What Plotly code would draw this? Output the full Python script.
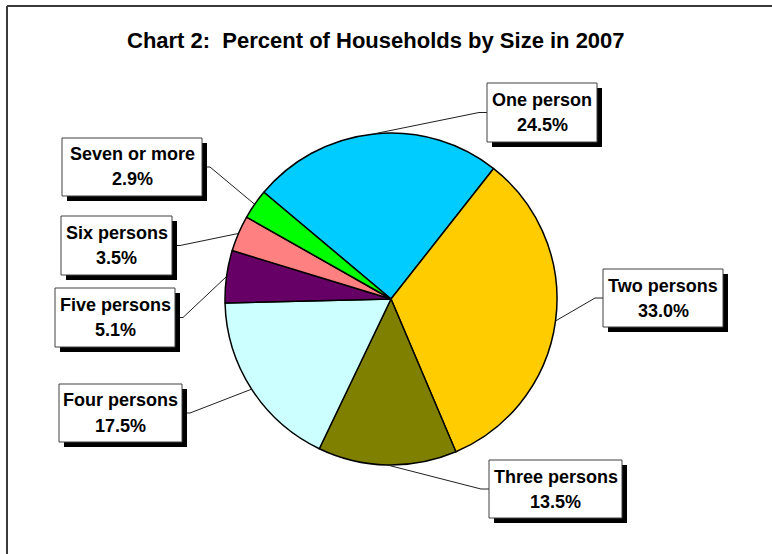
import math
import plotly.graph_objects as go

# ---- data ----
categories = ["One person", "Two persons", "Three persons", "Four persons",
              "Five persons", "Six persons", "Seven or more"]
percents = [24.5, 33.0, 13.5, 17.5, 5.1, 3.5, 2.9]
colors = ["#00CCFF", "#FFCC00", "#808000", "#CCFFFF", "#660066", "#FF8080", "#00FF00"]
title_text = "Chart 2:  Percent of Households by Size in 2007"

# ---- layout constants (pixels) ----
W, H = 772, 554
CX, CY, R = 391, 299, 166
START_DEG = -50
# label boxes: (x0, y0, x1, y1, side)  side = where leader attaches
boxes = [
    (487, 83, 597, 142, "left"),
    (603, 269, 723, 327, "left"),
    (489, 460, 622, 518, "left"),
    (59, 384, 182, 442, "right"),
    (55, 288, 175, 347, "right"),
    (61, 216, 172, 275, "right"),
    (62, 138, 202, 196, "right"),
]
FONT = "Arial, Liberation Sans, sans-serif"


def px(x):
    return x / W


def py(y):
    return 1 - y / H


fig = go.Figure(go.Pie(
    labels=categories, values=percents, sort=False, direction="clockwise",
    rotation=START_DEG, textinfo="none", hoverinfo="label+percent",
    marker=dict(colors=colors, line=dict(color="#000000", width=1.5)),
    domain=dict(x=[px(CX - R), px(CX + R)], y=[py(CY + R), py(CY - R)]),
    showlegend=False,
))

shapes = []
annotations = []

# frame (top and left edges visible)
shapes.append(dict(type="line", xref="paper", yref="paper", x0=px(7), y0=py(6), x1=1.0, y1=py(6),
                   line=dict(color="#3a3a3a", width=2)))
shapes.append(dict(type="line", xref="paper", yref="paper", x0=px(7), y0=py(6), x1=px(7), y1=0,
                   line=dict(color="#3a3a3a", width=2)))

total = sum(percents)
cum = 0.0
for name, val, (x0, y0, x1, y1, side) in zip(categories, percents, boxes):
    mid = START_DEG + (cum + val / 2) / total * 360
    cum += val
    a = math.radians(mid)
    ex, ey = CX + R * math.sin(a), CY - R * math.cos(a)
    ym = (y0 + y1) / 2
    if side == "left":
        bx, sx = x0, x0 - 8
    else:
        bx, sx = x1 + 5, x1 + 8
    path = f"M {px(ex)},{py(ey)} L {px(sx)},{py(ym)} L {px(bx)},{py(ym)}"
    shapes.append(dict(type="path", xref="paper", yref="paper", path=path,
                       line=dict(color="#202020", width=1)))
    # shadow
    shapes.append(dict(type="rect", xref="paper", yref="paper",
                       x0=px(x0 + 5), y0=py(y1 + 5), x1=px(x1 + 5), y1=py(y0 + 5),
                       fillcolor="#000000", line=dict(width=0)))
    # box
    shapes.append(dict(type="rect", xref="paper", yref="paper",
                       x0=px(x0), y0=py(y1), x1=px(x1), y1=py(y0),
                       fillcolor="#FFFFFF", line=dict(color="#404040", width=1)))
    xc = (x0 + x1) / 2
    for txt, dy in ((name, -12.5), (f"{val:.1f}%", 12.5)):
        annotations.append(dict(xref="paper", yref="paper", x=px(xc), y=py(ym + dy),
                                text=f"<b>{txt}</b>", showarrow=False,
                                xanchor="center", yanchor="middle",
                                font=dict(family=FONT, size=18, color="#000000")))

annotations.append(dict(xref="paper", yref="paper", x=px(375.5), y=py(40),
                        text=f"<b>{title_text}</b>", showarrow=False,
                        xanchor="center", yanchor="middle",
                        font=dict(family=FONT, size=22, color="#000000")))

fig.update_layout(width=W, height=H, margin=dict(l=0, r=0, t=0, b=0),
                  paper_bgcolor="#FFFFFF", plot_bgcolor="#FFFFFF",
                  shapes=shapes, annotations=annotations)

fig.write_html("out.html")
